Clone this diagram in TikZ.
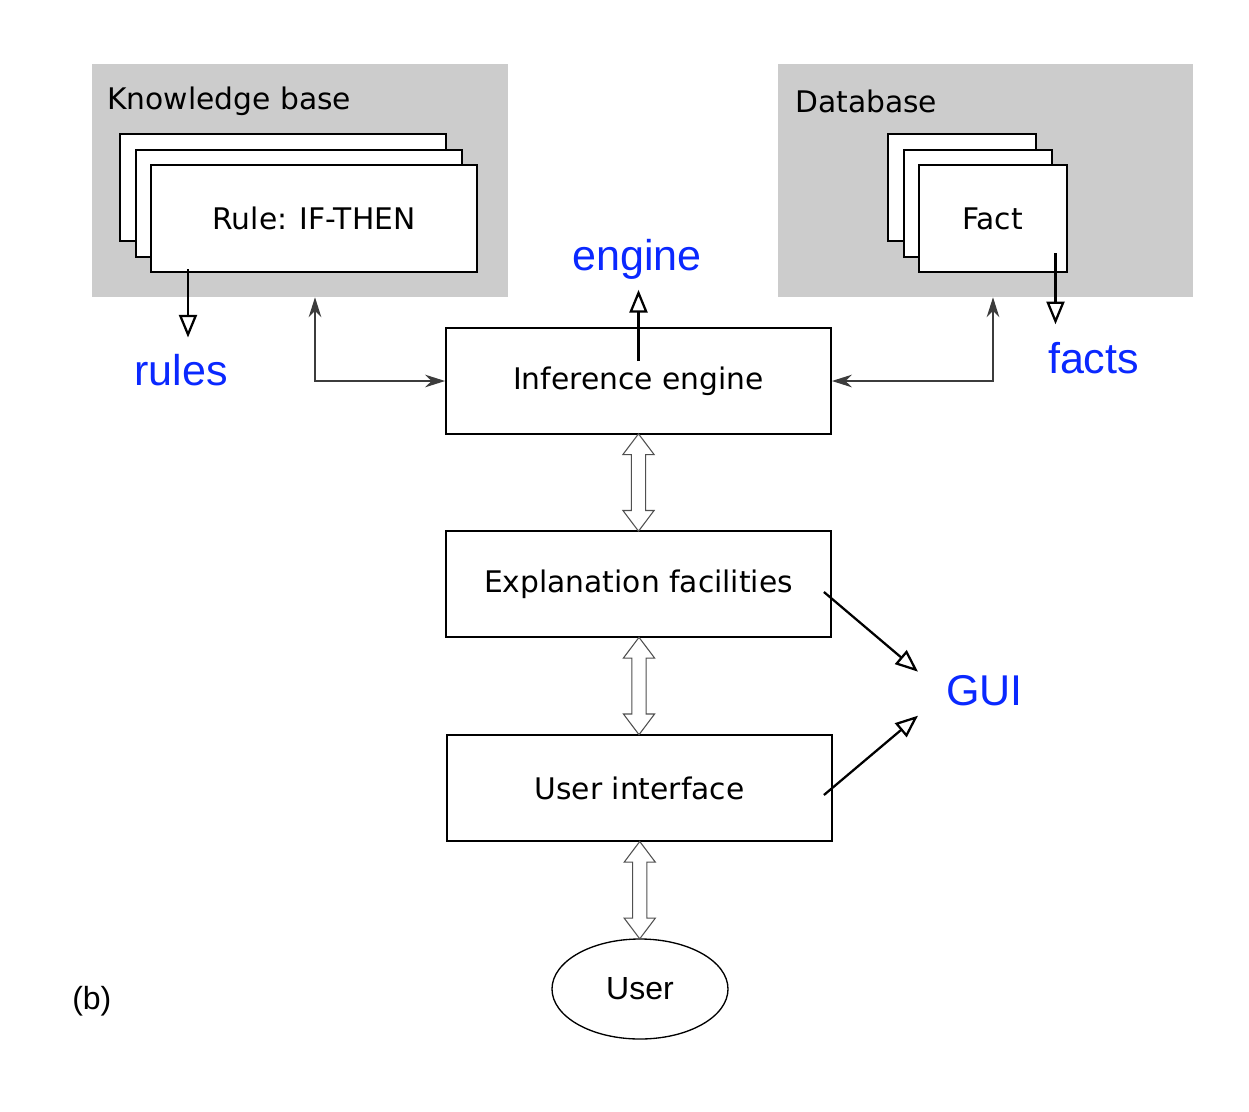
\documentclass[tikz,border=0pt]{standalone}
\usepackage{fontspec}
\setmainfont{Liberation Sans}
\newfontfamily\boxfont{DejaVu Sans}
\usepackage{tikz}
\usetikzlibrary{calc,arrows.meta,shapes.geometric,shapes.arrows}

\begin{document}
\begin{tikzpicture}[x=0.75pt,y=0.75pt,yscale=-1,xscale=1,
  graybox/.style={fill={rgb, 255:red, 204; green, 204; blue, 204 }, inner sep=0pt, minimum height=174.75pt},
  card/.style={draw, line width=1.5pt, fill=white, inner sep=0pt, minimum height=80.25pt, font=\boxfont\fontsize{22.3}{26}\selectfont},
  mainbox/.style={draw, line width=1.4pt, inner sep=0pt, minimum width=288.75pt, minimum height=79.5pt, font=\boxfont\fontsize{22.3}{26}\selectfont},
  boxtxt/.style={inner sep=0pt, font=\boxfont\fontsize{22.3}{26}\selectfont},
  bluetxt/.style={inner sep=0pt, text={rgb, 255:red, 10; green, 40; blue, 255 }, font=\fontsize{32.3}{38}\selectfont},
  outarrow/.style={line width=1.7pt, -{Triangle[open, length=17pt, width=13.5pt]}},
  link/.style={draw={rgb, 255:red, 60; green, 60; blue, 60 }, line width=0.9pt, {Stealth[length=15pt, width=9.5pt]}-{Stealth[length=15pt, width=9.5pt]}},
  hollow/.style={double arrow, draw={rgb, 255:red, 80; green, 80; blue, 80 }, line width=0.8pt, fill=white, rotate=90, inner xsep=0pt, inner ysep=4.9pt, minimum width=22.5pt, minimum height=73pt, double arrow head extend=6.4pt, double arrow tip angle=74}
]
\useasboundingbox (0,0) rectangle (1249,1111);

%Shape: Rectangle (knowledge base)
\node [graybox, minimum width=312pt] (kb) at (300,180.5) {};
%Shape: Rectangle (database)
\node [graybox, minimum width=311.25pt] (db) at (985.5,180.5) {};

% Text Node
\node [boxtxt, anchor=base west] (kbtitle) at (107,109) {Knowledge base};
% Text Node
\node [boxtxt, anchor=base west] (dbtitle) at (795,112) {Database};

%Shape: Rectangle stack (rules)
\node [card, minimum width=244.5pt] (rule1) at (283,187.5) {};
\node [card, minimum width=244.5pt] (rule2) at (298.5,203) {};
\node [card, minimum width=244.5pt] (rule3) at (314,218.5) {Rule: IF-THEN};

%Shape: Rectangle stack (facts)
\node [card, minimum width=111pt] (fact1) at (962,187.5) {};
\node [card, minimum width=111pt] (fact2) at (977.5,203) {};
\node [card, minimum width=111pt] (fact3) at (992.5,218.5) {Fact};

%Shape: Rectangle (main column)
\node [mainbox] (inf) at (638.5,381) {Inference engine};
\node [mainbox] (expl) at (638.5,584) {Explanation facilities};
\node [mainbox] (ui) at (639.5,788) {User interface};
%Shape: Ellipse
\node [draw, ellipse, line width=1pt, inner sep=0pt, minimum width=132pt, minimum height=75pt, font=\fontsize{24}{28}\selectfont] (user) at (640,989) {User};

% Text Node
\node [anchor=base west, inner sep=0pt, font=\fontsize{24}{28}\selectfont] (tag) at (72,1009) {(b)};

% Blue labels
\node [bluetxt, anchor=base] (rul) at (181,385) {rules};
\node [bluetxt, anchor=base] (eng) at (637,270) {engine};
\node [bluetxt, anchor=base] (fct) at (1093.5,373) {facts};
\node [bluetxt, anchor=base west] (gui) at (946,705) {GUI};

% Connectors to the knowledge base and the database
\draw [link] (inf.west) -| ($(kb.south)+(15,0)$);
\draw [link] (inf.east) -| ($(db.south)+(7.5,0)$);

% Hollow arrows down the column
\node [hollow] (a1) at ($(inf.south)!0.5!(expl.north)$) {};
\node [hollow] (a2) at ($(expl.south)!0.5!(ui.north)$) {};
\node [hollow] (a3) at ($(ui.south)!0.5!(user.north)$) {};

% Arrows to the blue labels
\coordinate (rulsrc) at ($(rule3.south west)+(38,-4)$);
\coordinate (engsrc) at ($(inf.north)+(0,34)$);
\coordinate (fctsrc) at ($(fact3.south east)+(-12,-20)$);
\draw [outarrow, shorten >=12pt] (rulsrc) -- (rulsrc |- rul.north);
\draw [outarrow, shorten >=8pt] (engsrc) -- (engsrc |- eng.south);
\draw [outarrow, shorten >=13pt] (fctsrc) -- (fctsrc |- fct.north);
\draw [outarrow] ($(expl.east)+(-8,8)$) -- ($(gui.west)+(-28,-18.5)$);
\draw [outarrow] ($(ui.east)+(-9,7)$) -- ($(gui.west)+(-28,25.5)$);

\end{tikzpicture}
\end{document}
